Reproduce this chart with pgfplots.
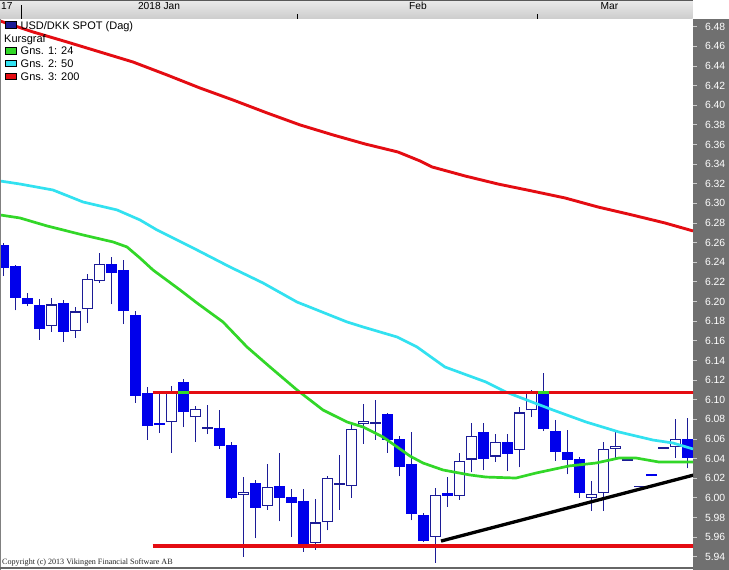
\documentclass[border=0pt]{standalone}
\usepackage{pgfplots}
\pgfplotsset{compat=1.18}
\usepackage{pgfplotstable}
\usepackage{fontspec}
\setmainfont{Liberation Sans}
\newfontfamily\copyfont{Liberation Serif}

\definecolor{candlenavy}{RGB}{28,28,150}
\definecolor{candleblue}{RGB}{0,0,235}
\definecolor{magreen}{RGB}{50,215,40}
\definecolor{macyan}{RGB}{50,225,240}
\definecolor{mared}{RGB}{228,12,18}
\definecolor{panelgrey}{RGB}{112,112,112}

% falling (filled) candles: x open high low close
\pgfplotstableread{
x o h l c
1 6.258 6.260 6.226 6.234
2 6.236 6.237 6.191 6.204
3 6.204 6.209 6.195 6.197
4 6.196 6.203 6.161 6.172
6 6.198 6.202 6.159 6.169
10 6.238 6.245 6.197 6.229
11 6.232 6.242 6.177 6.190
12 6.186 6.190 6.097 6.104
13 6.107 6.113 6.059 6.073
14 6.076 6.109 6.066 6.074
16 6.118 6.121 6.072 6.087
19 6.071 6.090 6.050 6.053
20 6.054 6.057 5.999 6.000
22 6.015 6.018 5.959 5.990
24 6.012 6.046 5.976 6.000
25 6.001 6.009 5.960 5.995
26 5.997 6.009 5.945 5.952
33 6.085 6.086 6.046 6.059
34 6.060 6.063 6.022 6.031
35 6.034 6.067 5.977 5.984
36 5.983 5.985 5.955 5.956
38 6.005 6.021 5.991 6.002
41 6.067 6.076 6.028 6.040
43 6.057 6.065 6.027 6.045
46 6.108 6.127 6.068 6.070
47 6.068 6.079 6.038 6.047
48 6.047 6.069 6.024 6.039
49 6.040 6.042 6.000 6.005
55 6.0243 6.0243 6.0222 6.0222
58 6.060 6.081 6.030 6.041
}\downcandles

% rising (hollow) candles
\pgfplotstableread{
x o h l c
5 6.175 6.204 6.169 6.197
7 6.170 6.194 6.163 6.190
8 6.192 6.228 6.178 6.223
9 6.221 6.249 6.219 6.238
15 6.077 6.114 6.046 6.109
17 6.082 6.094 6.057 6.091
21 6.003 6.021 5.940 6.006
23 5.992 6.034 5.988 6.011
27 5.954 5.999 5.947 5.975
28 5.975 6.022 5.967 6.020
30 6.012 6.076 6.000 6.070
31 6.075 6.096 6.055 6.078
37 5.960 6.010 5.934 6.003
39 6.002 6.046 5.998 6.038
40 6.039 6.076 6.026 6.063
42 6.042 6.065 6.037 6.057
44 6.049 6.093 6.031 6.087
45 6.089 6.110 6.082 6.108
50 6.000 6.017 5.987 6.004
51 6.005 6.057 5.987 6.050
52 6.050 6.068 6.041 6.053
57 6.052 6.080 6.041 6.060
}\upcandles

% doji candles
\pgfplotstableread{
x o h l c
18 6.0718 6.095 6.065 6.0703
29 6.0149 6.044 5.988 6.0134
32 6.0771 6.100 6.059 6.0756
53 6.0394 6.0394 6.0379 6.0379
54 6.0124 6.0124 6.0109 6.0109
56 6.0516 6.0516 6.0501 6.0501
}\dojicandles

\pgfplotstableread{
x v
0.71 6.4858
3.46 6.4746
6.29 6.4644
9.04 6.4542
11.79 6.4440
14.625 6.4308
17.375 6.4175
20.125 6.4053
22.96 6.3921
25.71 6.3799
28.46 6.3697
31.125 6.3605
33.875 6.3523
35.71 6.3432
36.71 6.3371
39.46 6.3279
42.21 6.3197
45.04 6.3126
47.79 6.3055
50.54 6.2963
53.375 6.2882
56.125 6.2800
58.46 6.2719
}\mathree

\pgfplotstableread{
x v
0.71 6.3228
2.375 6.3197
5.125 6.3136
7.625 6.3014
10.46 6.2933
12.375 6.2831
13.79 6.2729
14.625 6.2678
17.125 6.2525
19.875 6.2352
22.625 6.2189
25.458 6.1995
27.125 6.1914
29.625 6.1792
30.96 6.1741
33.79 6.1639
35.46 6.1537
37.79 6.1333
41.21 6.1180
42.875 6.1078
43.96 6.1027
46.79 6.0895
49.54 6.0773
52.29 6.0671
55.125 6.0589
56.79 6.0559
58.46 6.0498
}\matwo

\pgfplotstableread{
x v
0.71 6.2882
2.375 6.2851
4.625 6.2770
7.625 6.2678
10.125 6.2607
11.29 6.2556
12.375 6.2443
13.46 6.2321
15.71 6.2118
17.125 6.1985
19.29 6.1792
21.29 6.1537
23.21 6.1333
25.46 6.1099
27.625 6.0895
29.625 6.0773
30.96 6.0722
32.625 6.0620
34.875 6.0426
35.96 6.0355
37.625 6.0284
39.875 6.0233
41.21 6.0212
43.71 6.0202
45.375 6.0253
48.125 6.0325
50.375 6.0355
52.29 6.0406
53.71 6.0406
55.625 6.0365
58.46 6.0365
}\maone

\pgfplotsset{
  candle/.style 2 args={draw=none, mark=none, forget plot,
    error bars/.cd, y dir=plus, y explicit, error mark=none,
    error bar style={draw=#1, line width=#2}},
}

\begin{document}
\begin{tikzpicture}[x=1pt,y=1pt]
\useasboundingbox (0,0) rectangle (729,570);
\fill[white] (0,0) rectangle (729,570);
\fill[panelgrey] (693,0) rectangle (729,550.5);
\shade[top color=black!8, bottom color=black!20] (0,551) rectangle (692.5,570);
\draw[black!65, line width=1pt] (0,569.5) -- (692.5,569.5);

\begin{axis}[
  at={(1pt,4pt)}, anchor=south west,
  scale only axis, width=692pt, height=547pt,
  xmin=0.7917, xmax=58.458, ymin=5.9306, ymax=6.4878,
  axis x line=none,
  axis y line*=right,
  y axis line style={draw=none},
  ytick={5.94,5.96,...,6.49},
  tick align=outside,
  major tick length=4pt,
  ytick style={draw=black!20, line width=0.8pt},
  yticklabel style={text=white, font=\fontsize{10.4}{12}\selectfont, anchor=west, xshift=4.5pt,
    /pgf/number format/fixed, /pgf/number format/fixed zerofill,
    /pgf/number format/precision=2, /pgf/number format/assume math mode=true},
  clip=true,
]
% wicks
\addplot[candle={candlenavy}{1.2pt}]
  table[x=x, y=l, y error expr=\thisrow{h}-\thisrow{l}] {\downcandles};
\addplot[candle={candlenavy}{1.2pt}]
  table[x=x, y=l, y error expr=\thisrow{h}-\thisrow{l}] {\upcandles};
\addplot[candle={candlenavy}{1.2pt}]
  table[x=x, y=l, y error expr=\thisrow{h}-\thisrow{l}] {\dojicandles};
% filled bodies
\addplot[candle={candleblue}{11pt}]
  table[x=x, y=c, y error expr=\thisrow{o}-\thisrow{c}] {\downcandles};
% doji bodies
\addplot[candle={candlenavy}{11pt}]
  table[x=x, y=c, y error expr=\thisrow{o}-\thisrow{c}] {\dojicandles};
% hollow bodies
\addplot[candle={candlenavy}{11pt}]
  table[x=x, y=o, y error expr=\thisrow{c}-\thisrow{o}] {\upcandles};
\addplot[candle={white}{8.6pt}]
  table[x=x, y expr=\thisrow{o}+0.0012, y error expr=\thisrow{c}-\thisrow{o}-0.0024] {\upcandles};
% moving averages
\addplot[mared, line width=2.9pt] table[x=x, y=v] {\mathree};
\addplot[macyan, line width=2.7pt] table[x=x, y=v] {\matwo};
\addplot[magreen, line width=2.7pt] table[x=x, y=v] {\maone};
% horizontal lines
\addplot[mared, line width=3.3pt] coordinates {(13.43,6.1075) (58.5,6.1075)};
\addplot[mared, line width=3.3pt] coordinates {(13.43,5.9509) (58.5,5.9509)};
\addplot[magreen, line width=3.3pt] coordinates {(15.54,6.1075) (16.46,6.1075)};
\addplot[magreen, line width=3.3pt] coordinates {(45.54,6.1075) (46.46,6.1075)};
% trend line
\addplot[black, line width=3.3pt] coordinates {(37.46,5.9560) (58.5,6.0232)};
\end{axis}

% borders
\draw[black!50, line width=1pt] (0.5,0) -- (0.5,551);
\draw[black!60, line width=1.6pt] (0,2.2) -- (693,2.2);

% header
\draw[black, line width=0.8pt] (21,551) -- (21,565);
\draw[black, line width=0.8pt] (297,551) -- (297,555.5);
\draw[black, line width=0.8pt] (537,551) -- (537,555.5);
\begin{scope}[every node/.style={font=\fontsize{10.2}{12}\selectfont, inner sep=0pt}]
\node[anchor=base west] at (1,560.5) {17};
\node[anchor=base] at (159,560.5) {2018 Jan};
\node[anchor=base] at (418,560.5) {Feb};
\node[anchor=base] at (609.5,560.5) {Mar};
\end{scope}

% legend
\begin{scope}[every node/.style={font=\fontsize{11}{13}\selectfont, inner sep=0pt, anchor=base west}]
\filldraw[fill=candlenavy, draw=black, line width=0.8pt] (5,541.7) rectangle (16,548.2);
\node at (20.5,540.7) {USD/DKK SPOT (Dag)};
\node at (4,527.7) {Kursgraf};
\filldraw[fill=magreen, draw=black, line width=0.8pt] (5,516) rectangle (16,522.5);
\node at (20.5,515) {Gns. 1: 24};
\filldraw[fill=macyan, draw=black, line width=0.8pt] (5,503.3) rectangle (16,509.8);
\node at (20.5,502.3) {Gns. 2: 50};
\filldraw[fill=mared, draw=black, line width=0.8pt] (5,490.3) rectangle (16,496.8);
\node at (20.5,489.3) {Gns. 3: 200};
\end{scope}

\node[anchor=base west, inner sep=0pt, font=\copyfont\fontsize{8.1}{9}\selectfont, text=black!85] at (2,5.6) {Copyright (c) 2013 Vikingen Financial Software AB};
\end{tikzpicture}
\end{document}
